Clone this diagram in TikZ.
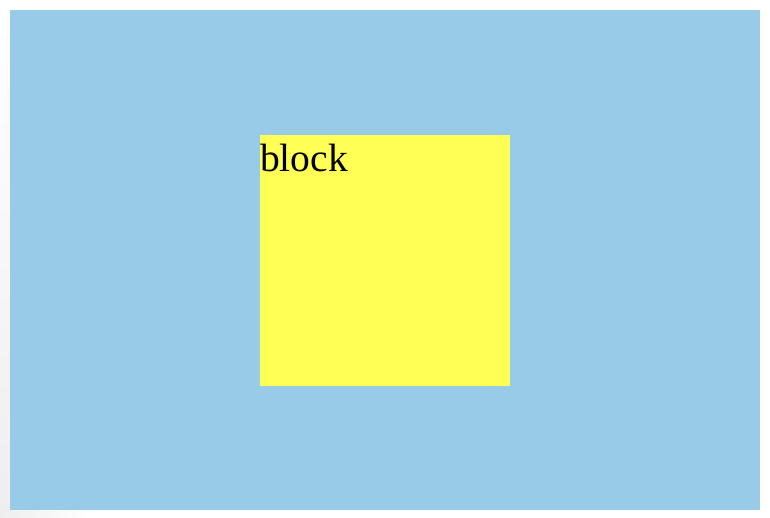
\documentclass[tikz,border=0pt]{standalone}
\usepackage{fontspec}
\setmainfont{Liberation Serif}
\usepackage{xcolor}
\usepackage{tikz}
\usetikzlibrary{positioning}

\definecolor{skyblue}{RGB}{151,203,231}
\definecolor{blockyellow}{RGB}{255,255,85}
\definecolor{edgegray}{RGB}{238,238,238}

\begin{document}
\begin{tikzpicture}[
  x=1pt, y=-1pt,
  area/.style={fill=skyblue,draw=none,minimum width=750pt,minimum
               height=500pt,inner sep=0pt,outer sep=0pt},
  blockbox/.style={fill=blockyellow,draw=none,minimum width=250pt,minimum
               height=250pt,inner sep=0pt,outer sep=0pt},
  tag/.style={font=\fontsize{39.5}{44}\selectfont,inner sep=0pt,anchor=north west}
]
\useasboundingbox (0,0) rectangle (770,518);
\fill[white] (0,0) rectangle (770,518);
% soft frame shadow at the left and bottom
\shade[top color=white,bottom color=edgegray] (0,20) rectangle (10,518);
\shade[left color=edgegray,right color=white] (0,510) rectangle (90,518);

\node[area,anchor=north west] (page) at (10,10) {};
\node[blockbox,anchor=north west] (block) at (260,135.5) {};
\node[tag] (blocklabel) at ([yshift=-8.5pt]block.north west) {block};
\end{tikzpicture}
\end{document}
